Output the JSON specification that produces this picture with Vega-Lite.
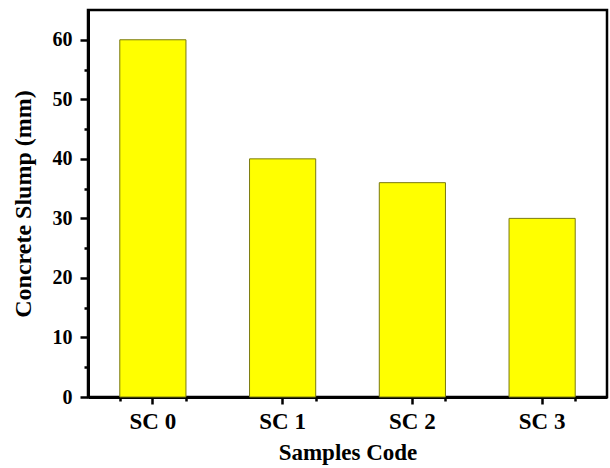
{
  "$schema": "https://vega.github.io/schema/vega-lite/v6.json",
  "width": 519,
  "height": 387,
  "autosize": {"type": "none"},
  "padding": {"left": 88, "top": 10, "right": 3, "bottom": 71},
  "background": "white",
  "config": {
    "view": {"stroke": "black", "strokeWidth": 2.5},
    "font": "Liberation Serif"
  },
  "data": {
    "values": [
      {"code": "SC 0", "slump": 60},
      {"code": "SC 1", "slump": 40},
      {"code": "SC 2", "slump": 36},
      {"code": "SC 3", "slump": 30}
    ]
  },
  "layer": [
    {
      "mark": {"type": "bar", "color": "#FFFF00", "stroke": "#7a7a10", "strokeWidth": 1},
      "encoding": {
        "x": {
          "field": "code", "type": "nominal", "sort": null,
          "scale": {"paddingInner": 0.49, "paddingOuter": 0.245},
          "axis": {
            "orient": "bottom", "title": "Samples Code", "labelAngle": 0,
            "labelFont": "Liberation Serif", "labelFontWeight": "bold", "labelFontSize": 23, "labelColor": "black",
            "labelPadding": 6,
            "titleFont": "Liberation Serif", "titleFontWeight": "bold", "titleFontSize": 23, "titleColor": "black",
            "titlePadding": 8,
            "domainColor": "black", "domainWidth": 3,
            "tickColor": "black", "tickWidth": 2.5, "tickSize": 7,
            "grid": false
          }
        },
        "y": {
          "field": "slump", "type": "quantitative",
          "scale": {"domain": [0, 65], "nice": false},
          "axis": {
            "orient": "left", "title": "Concrete Slump (mm)",
            "values": [0, 10, 20, 30, 40, 50, 60],
            "labelFont": "Liberation Serif", "labelFontWeight": "bold", "labelFontSize": 20, "labelColor": "black",
            "labelPadding": 8,
            "titleFont": "Liberation Serif", "titleFontWeight": "bold", "titleFontSize": 24, "titleColor": "black",
            "titlePadding": 17,
            "domainColor": "black", "domainWidth": 3,
            "tickColor": "black", "tickWidth": 2.5, "tickSize": 8,
            "grid": false
          }
        }
      }
    },
    {
      "mark": {"type": "bar", "opacity": 0},
      "encoding": {
        "x": {
          "field": "code", "type": "nominal", "sort": null,
          "axis": {
            "orient": "bottom", "title": null, "labels": false, "domain": false,
            "tickBand": "extent", "tickColor": "black", "tickWidth": 2.5, "tickSize": 4, "grid": false
          }
        },
        "y": {
          "field": "slump", "type": "quantitative",
          "axis": {
            "orient": "left", "title": null, "labels": false, "domain": false,
            "values": [5, 15, 25, 35, 45, 55],
            "tickColor": "black", "tickWidth": 2.5, "tickSize": 4, "grid": false
          }
        }
      }
    }
  ],
  "resolve": {"axis": {"x": "independent", "y": "independent"}}
}
